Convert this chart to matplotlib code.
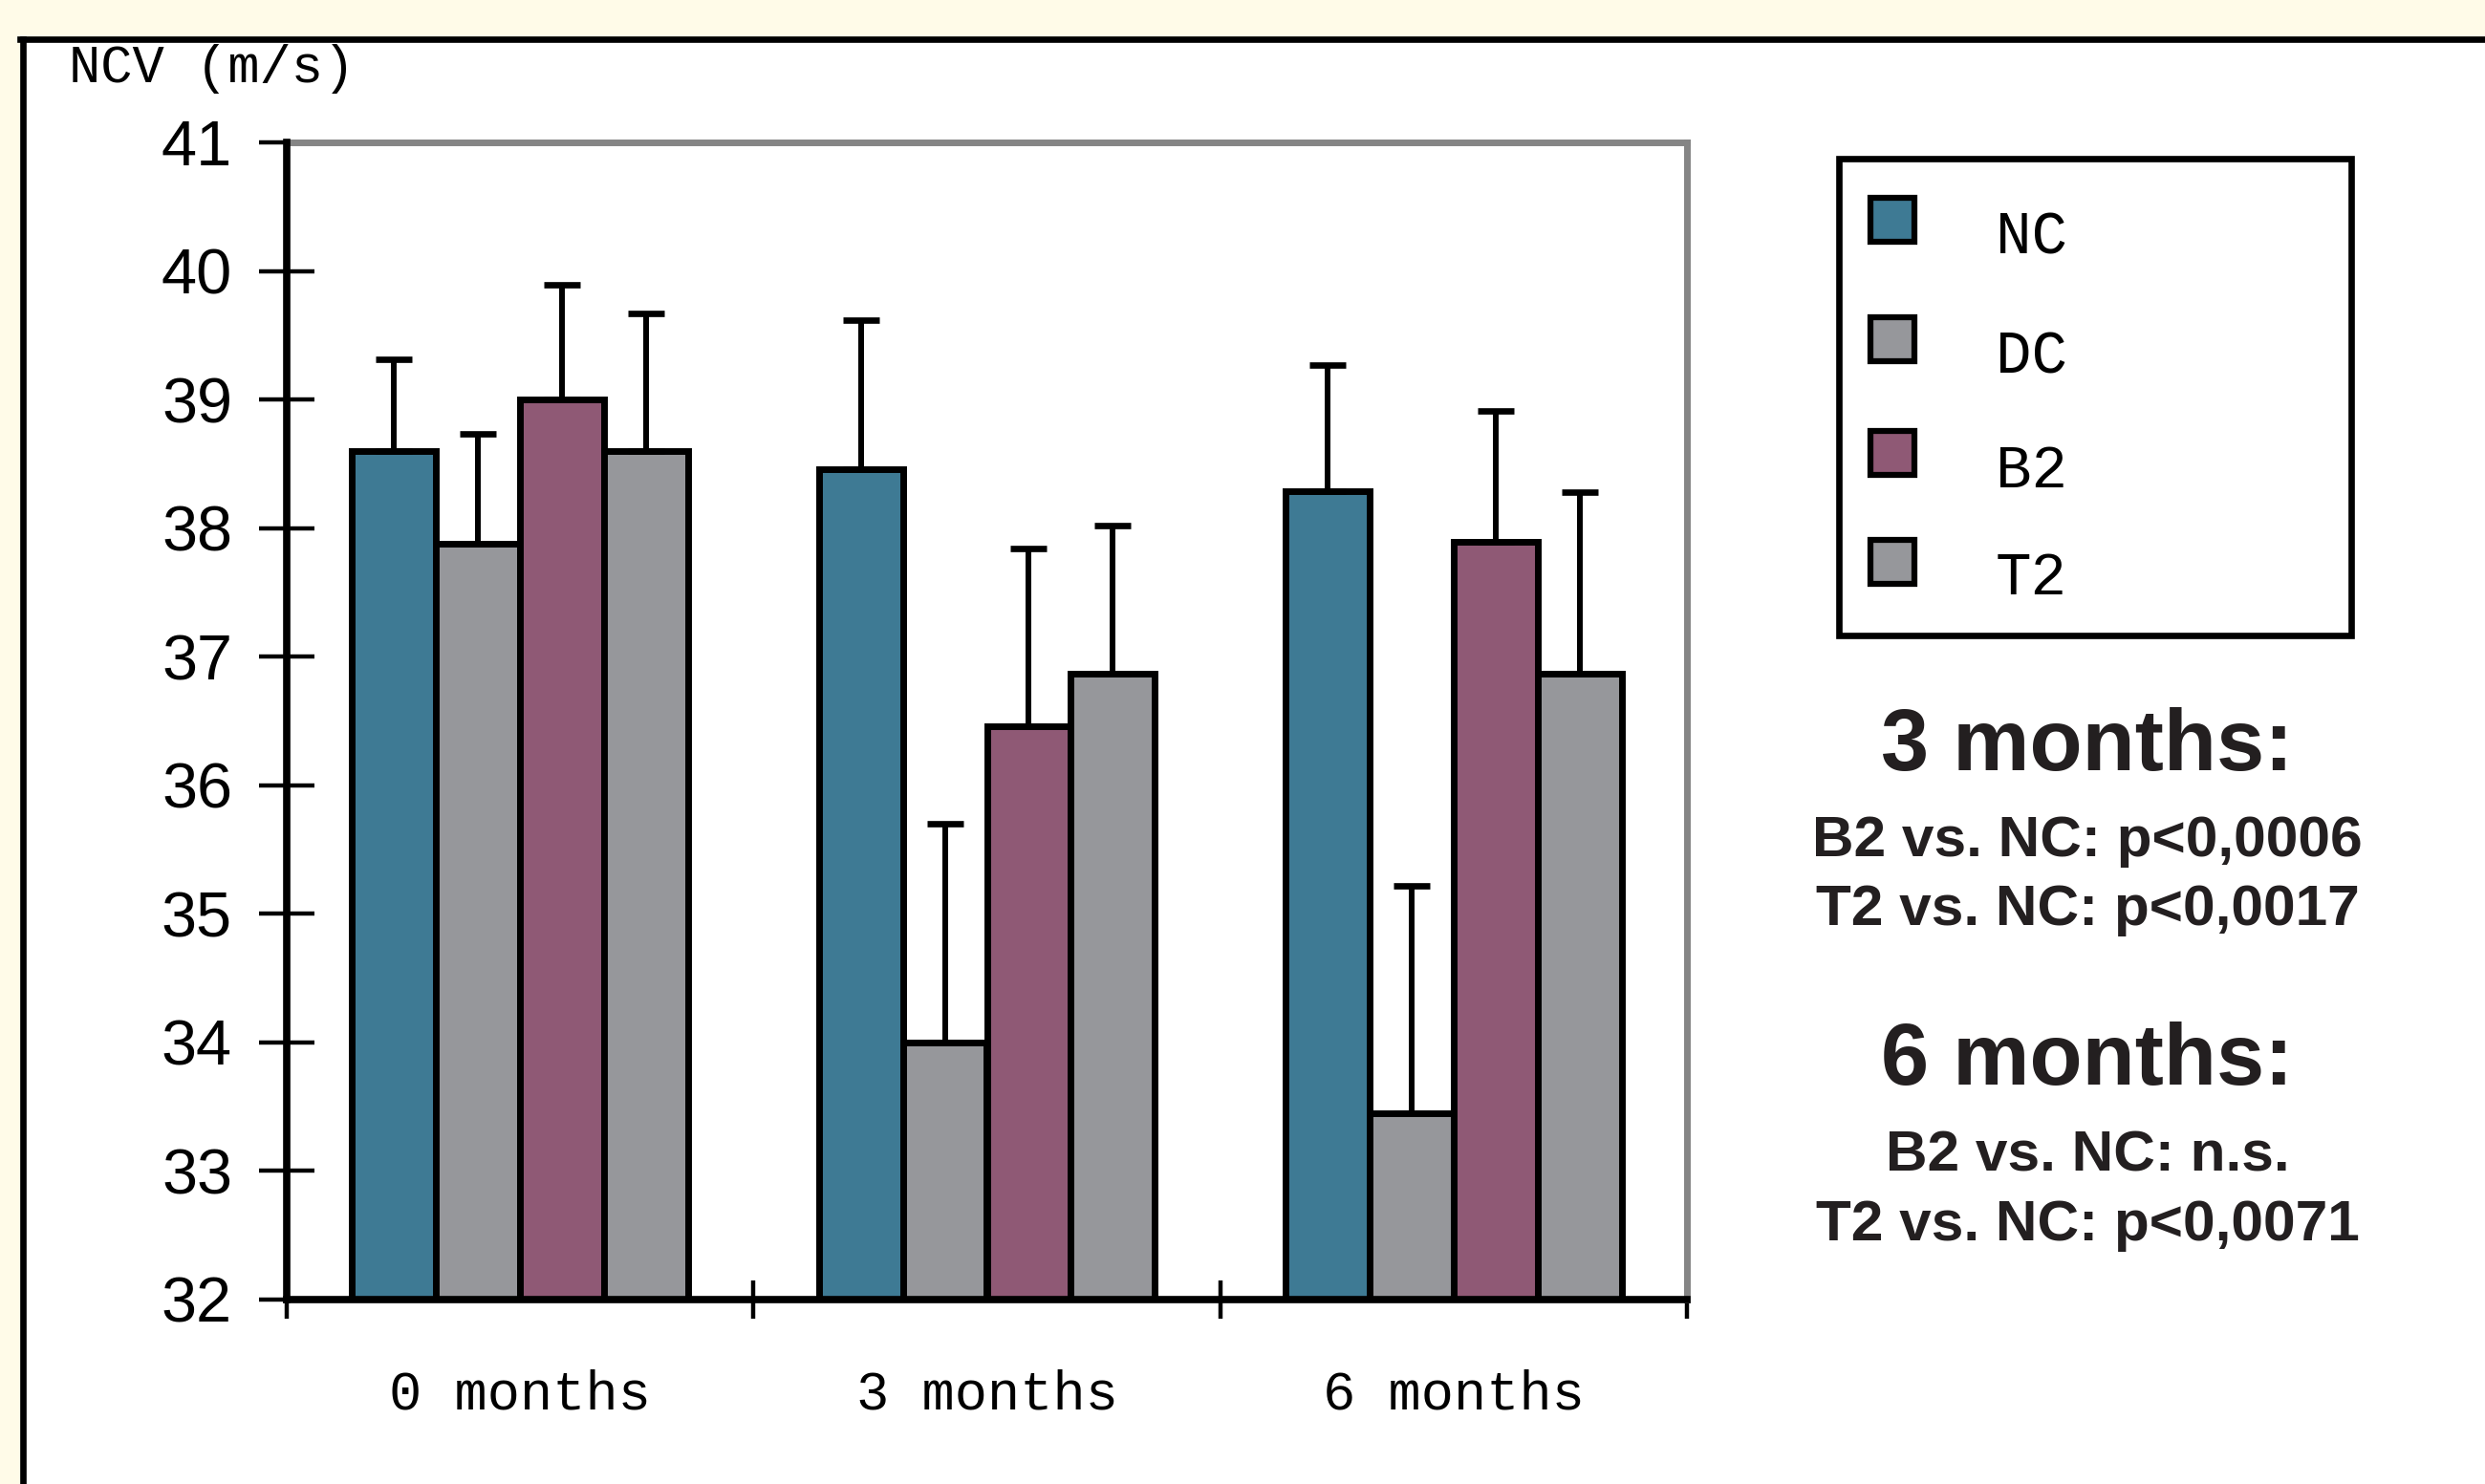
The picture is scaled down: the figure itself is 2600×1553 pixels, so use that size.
import numpy as np
import matplotlib
matplotlib.use("Agg")
import matplotlib.pyplot as plt
from matplotlib.patches import Rectangle
from matplotlib.lines import Line2D

# ---- data ----
timepoints = ["0 months", "3 months", "6 months"]
groups = ["NC", "DC", "B2", "T2"]
nc_mean = [38.60, 38.46, 38.29]
dc_mean = [37.88, 34.00, 33.45]
b2_mean = [39.00, 36.46, 37.89]
t2_mean = [38.60, 36.87, 36.87]
nc_sd = [0.71, 1.16, 0.98]
dc_sd = [0.85, 1.70, 1.77]
b2_sd = [0.89, 1.38, 1.02]
t2_sd = [1.07, 1.15, 1.41]
y_ticks = [32, 33, 34, 35, 36, 37, 38, 39, 40, 41]
y_label = "NCV (m/s)"
stats_3m_title = "3 months:"
stats_3m = ["B2 vs. NC: p<0,0006", "T2 vs. NC: p<0,0017"]
stats_6m_title = "6 months:"
stats_6m = ["B2 vs. NC: n.s.", "T2 vs. NC: p<0,0071"]

colors = ["#3E7A94", "#96979B", "#8F5975", "#96979B"]
means = [nc_mean, dc_mean, b2_mean, t2_mean]
sds = [nc_sd, dc_sd, b2_sd, t2_sd]

W, H = 2600, 1553
fig = plt.figure(figsize=(W / 100, H / 100), dpi=100)
fig.patch.set_facecolor("#FFFBE8")

def fx(px):
    return px / W

def fy(py):
    return 1 - py / H

# white panel with black left/top border
fig.add_artist(Rectangle((fx(24), 0), 1, fy(41), transform=fig.transFigure,
                         facecolor="white", edgecolor="none", zorder=0))
fig.add_artist(Line2D([fx(24), fx(24)], [0, fy(41)], transform=fig.transFigure,
                      color="black", lw=4.8, zorder=1))
fig.add_artist(Line2D([fx(21), 1], [fy(41), fy(41)], transform=fig.transFigure,
                      color="black", lw=4.8, zorder=1))

# axes
left, right, top, bottom = 300, 1765, 149, 1360
ax = fig.add_axes([fx(left), fy(bottom), fx(right - left), (bottom - top) / H])
ax.set_facecolor("white")

x = np.arange(len(timepoints))
w = 0.18
for i, (m, s, c) in enumerate(zip(means, sds, colors)):
    pos = x + (i - 1.5) * w
    ax.bar(pos, m, w, color=c, edgecolor="black", linewidth=5.0, zorder=2)
    ax.errorbar(pos, m, yerr=[np.zeros(len(s)), s], fmt="none", ecolor="black",
                elinewidth=4.3, capsize=14, capthick=4.8, zorder=3)

ax.set_ylim(32, 41)
ax.set_xlim(-0.5, 2.5)
ax.set_yticks(y_ticks)
ax.set_yticklabels([str(t) for t in y_ticks], fontfamily="Liberation Sans", fontsize=48)
for lab in ax.get_yticklabels():
    lab.set_va("center_baseline")
ax.tick_params(axis="y", direction="inout", length=42, width=3.2, pad=20, colors="black")

ax.set_xticks([-0.5, 0.5, 1.5, 2.5])
ax.set_xticklabels([])
ax.tick_params(axis="x", which="major", direction="inout", length=29, width=3.2)
ax.set_xticks(x, timepoints, minor=True)
ax.tick_params(axis="x", which="minor", length=0, pad=52, labelsize=41)
for lab in ax.get_xticklabels(minor=True):
    lab.set_fontfamily("Liberation Mono")

for side in ["left", "bottom"]:
    ax.spines[side].set_color("black")
    ax.spines[side].set_linewidth(5.5)
for side in ["top", "right"]:
    ax.spines[side].set_color("#858585")
    ax.spines[side].set_linewidth(5.0)
ax.spines["bottom"].set_zorder(4)
ax.spines["left"].set_zorder(4)

# y-axis label at top-left
fig.text(fx(72), fy(72), y_label, fontfamily="Liberation Mono", fontsize=40,
         ha="left", va="center", color="black")

# legend box
fig.add_artist(Rectangle((fx(1924), fy(665)), fx(2460 - 1924), (665 - 166) / H,
                         transform=fig.transFigure, facecolor="white",
                         edgecolor="black", lw=4.8, zorder=2))
patch_cy = [230, 355, 474, 588]
label_cy = [249, 374, 493, 606]
for g, c, pcy, lcy in zip(groups, colors, patch_cy, label_cy):
    fig.add_artist(Rectangle((fx(1957), fy(pcy + 23)), fx(46), 46 / H,
                             transform=fig.transFigure, facecolor=c,
                             edgecolor="black", lw=4.5, zorder=3))
    fig.text(fx(2088), fy(lcy), g, fontfamily="Liberation Mono",
             fontsize=45, ha="left", va="center", color="black", zorder=3)

# statistics text
tc = "#231F20"
cx = fx(2184)
fig.text(cx, fy(783), stats_3m_title, fontfamily="Liberation Sans", fontweight="bold",
         fontsize=65, ha="center", va="center", color=tc)
for line, yy in zip(stats_3m, [880, 953]):
    fig.text(cx, fy(yy), line, fontfamily="Liberation Sans", fontweight="bold",
             fontsize=43.5, ha="center", va="center", color=tc)
fig.text(cx, fy(1111), stats_6m_title, fontfamily="Liberation Sans", fontweight="bold",
         fontsize=65, ha="center", va="center", color=tc)
for line, yy in zip(stats_6m, [1210, 1282]):
    fig.text(cx, fy(yy), line, fontfamily="Liberation Sans", fontweight="bold",
             fontsize=43.5, ha="center", va="center", color=tc)

fig.savefig("out.png", dpi=100, facecolor=fig.get_facecolor())
